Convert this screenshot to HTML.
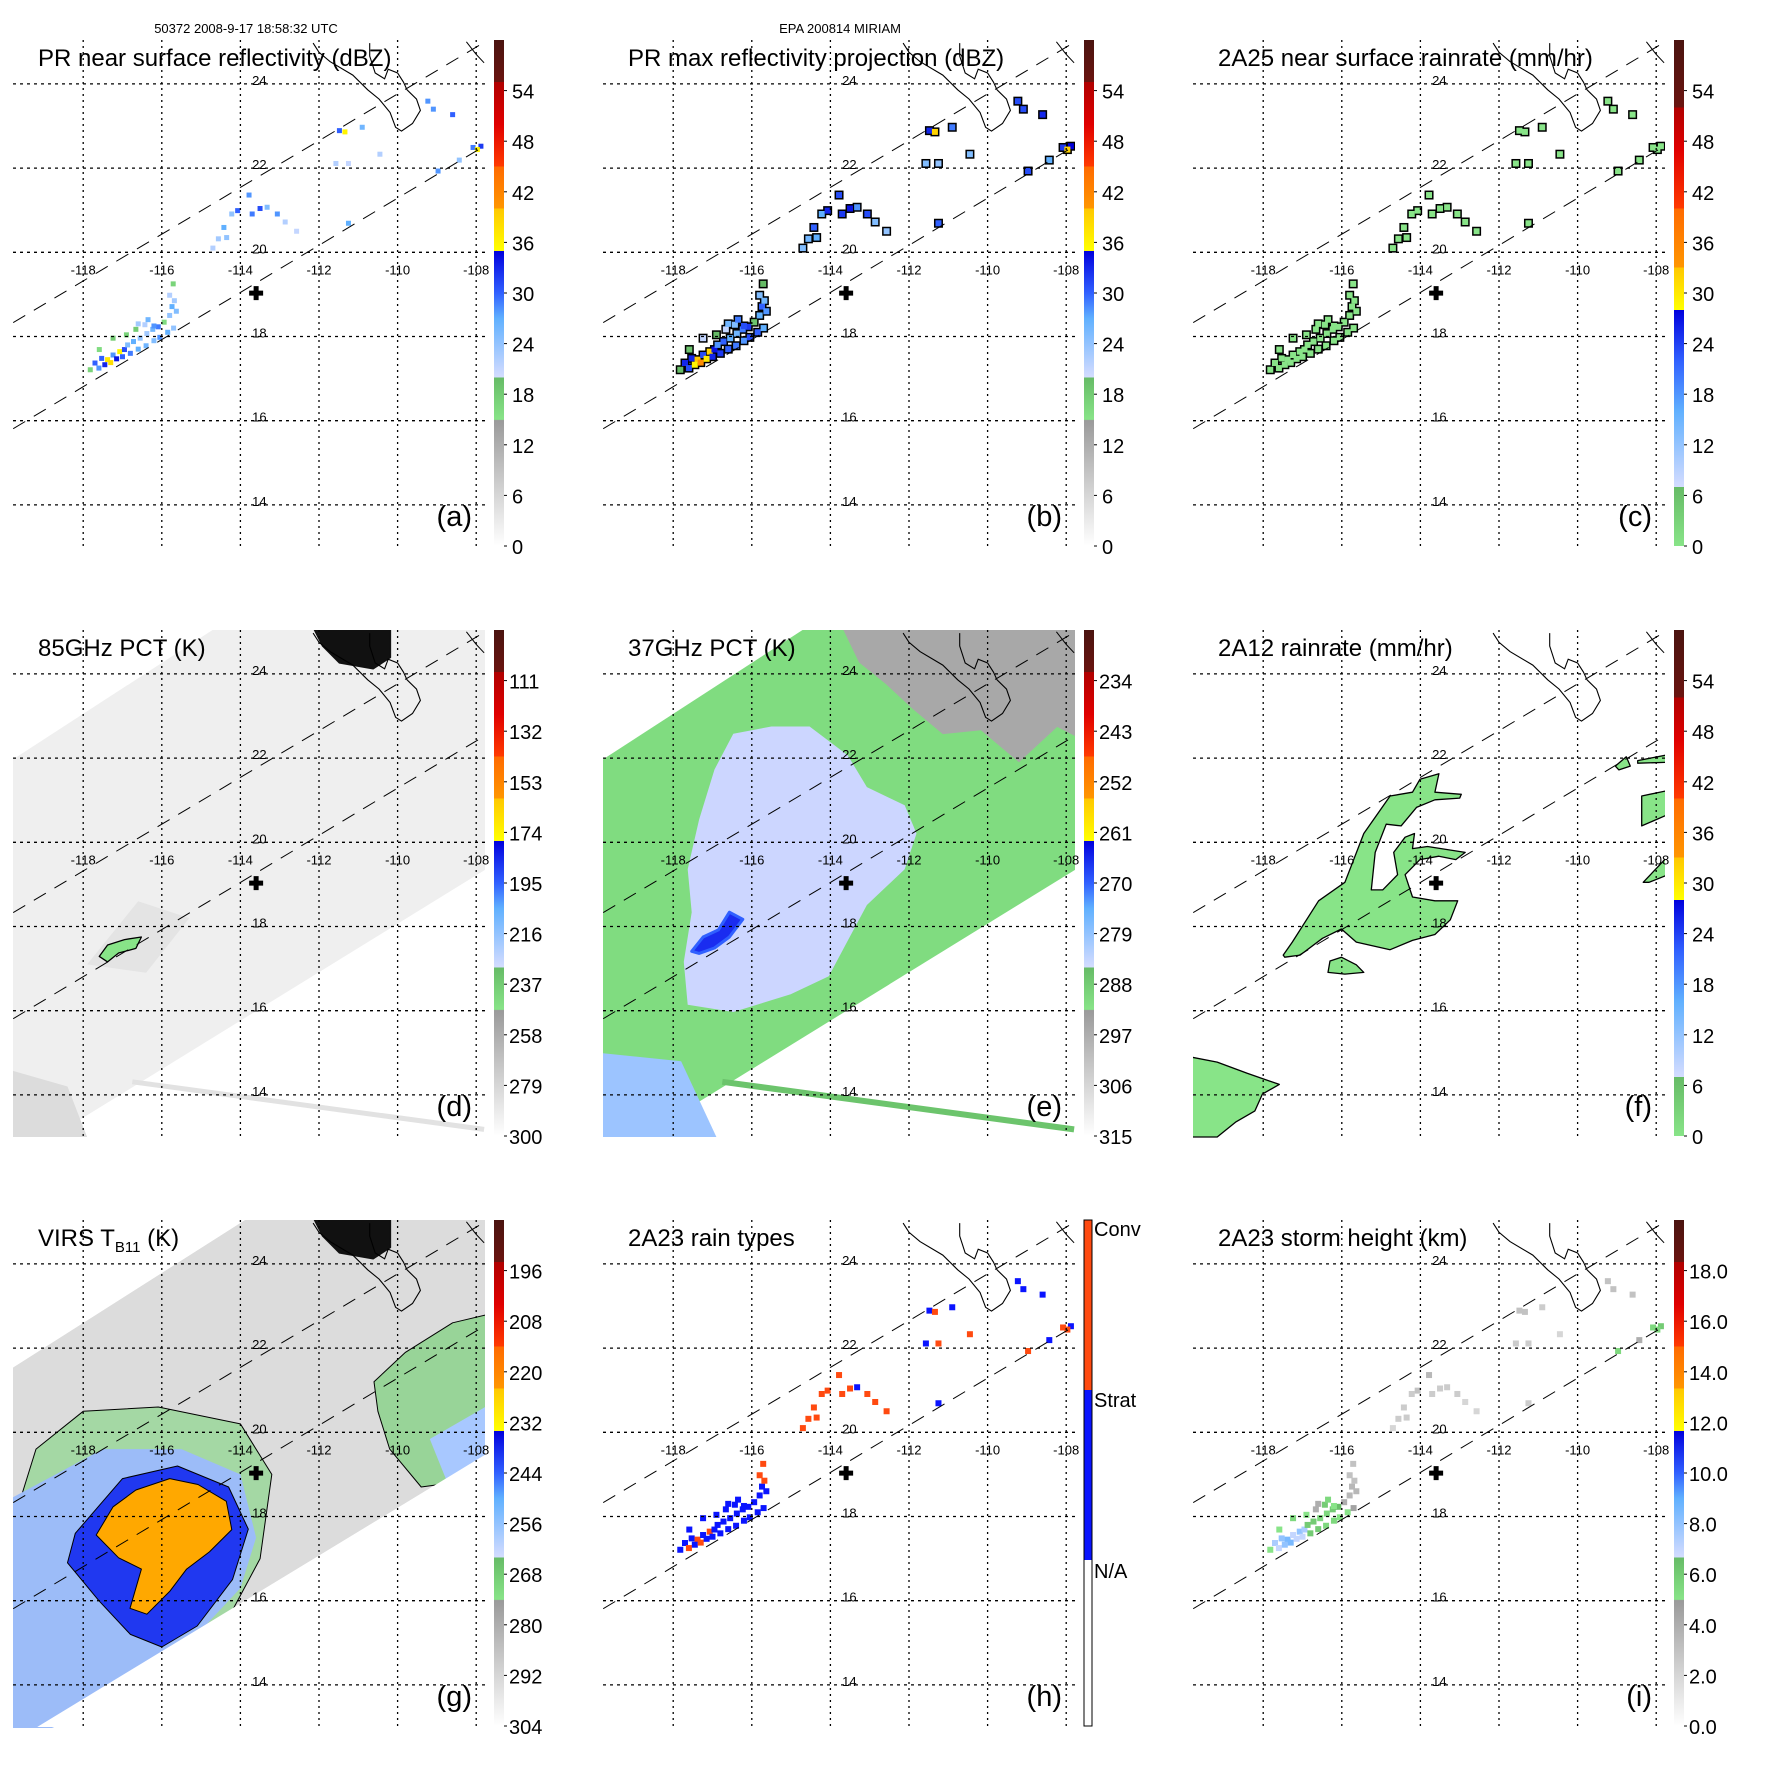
<!DOCTYPE html>
<html><head><meta charset="utf-8">
<style>
html,body{margin:0;padding:0;background:#fff;}
svg{display:block;font-family:"Liberation Sans",sans-serif;}
</style></head>
<body>
<svg id="fig" width="1771" height="1771" viewBox="0 0 1771 1771" xmlns="http://www.w3.org/2000/svg">
<defs>
<clipPath id="plotClip"><rect x="13" y="40" width="472" height="508"/></clipPath>
</defs>
<text x="246" y="33" font-size="13" text-anchor="middle">50372 2008-9-17 18:58:32 UTC</text>
<text x="840" y="33" font-size="13" text-anchor="middle">EPA 200814 MIRIAM</text>
</svg>
<script>
// ---------------- data ----------------
const lonTicks=[-118,-116,-114,-112,-110,-108];
const latTicks=[14,16,18,20,22,24];
const cbDbz=['0','6','12','18','24','30','36','42','48','54'];
const cb85=['300','279','258','237','216','195','174','153','132','111'];
const cb37=['315','306','297','288','279','270','261','252','243','234'];
const cbVirs=['304','292','280','268','256','244','232','220','208','196'];
const cbHeight=['0.0','2.0','4.0','6.0','8.0','10.0','12.0','14.0','16.0','18.0'];
// PR rain cells
const cellLon=[-117.7,-117.53,-117.38,-117.24,-117.07,-116.95,-116.87,-116.72,-116.55,-116.38,-116.66,-116.23,-117.82,-117.59,-117.24,-116.9,-116.43,-116.09,-115.94,-117.6,-117.45,-117.3,-117.15,-117.0,-116.8,-116.6,-116.4,-116.2,-116.05,-115.85,-115.7,-116.6,-116.35,-116.2,
 -115.8,-115.74,-115.8,-115.71,-115.63,-115.68,
 -114.56,-114.42,-114.22,-114.07,-113.78,-113.7,-113.5,-113.32,-113.06,-112.86,-112.57,-114.7,-114.35,
 -111.48,-111.34,-110.9,-111.57,-111.25,-110.45,-109.23,-109.09,-108.6,-108.08,-107.88,-107.97,-108.97,-108.43,-111.25];
const cellLat=[17.37,17.48,17.45,17.56,17.64,17.69,17.8,17.88,17.96,18.07,18.17,18.17,17.21,17.69,17.96,18.04,18.28,18.23,18.34,17.25,17.33,17.38,17.47,17.52,17.6,17.7,17.78,17.9,17.98,18.1,18.2,18.3,18.4,18.25,
 18.5,18.71,18.98,19.25,18.6,18.85,
 20.32,20.59,20.91,20.99,21.36,20.91,21.04,21.07,20.91,20.72,20.5,20.1,20.35,
 22.89,22.86,22.97,22.11,22.11,22.33,23.59,23.4,23.27,22.49,22.52,22.44,21.93,22.19,20.69];
const cellDbz=[30,30,37,28,36,31,25,27,24,23,18,26,17,16,18,17,22,29,16,28,33,38,34,30,29,27,26,25,28,27,24,23,26,28,
 24,27,22,17,25,23,
 23,27,24,30,28,29,31,25,28,22,21,22,24,
 30,36,26,22,21,22,28,28,30,29,32,36,28,24,27];
const cellType=[1,1,2,1,2,1,1,1,1,1,1,1,1,1,1,1,1,1,1,2,1,2,1,1,1,1,1,1,1,1,1,1,1,1,
 1,1,2,2,1,2,
 2,2,2,2,2,2,2,1,2,2,2,2,2,
 1,2,1,1,2,2,1,1,1,2,1,2,2,1,1];
const cellHeight=[7.5,8,8.5,7,8,7.5,6,6,5.5,5.5,4,6,5,5,5.5,5,6,6.5,4,7,8,8.5,7,7,6,6,5.5,5.5,5,5,4.5,4,5.5,5,
 3.5,3.5,3,3,3.5,3,
 2.5,2.5,2.5,3,3.5,2.5,2.5,2.5,2.5,2,2,2,2.5,
 3,3,2.5,2.5,2.5,2,3,3,3,5.5,6,5.5,5.5,4,2.5];
// coastline (Baja tip)
const coastLon=[-112.15,-112.0,-111.72,-111.14,-110.76,-110.47,-110.19,-110.05,-109.9,-109.62,-109.42,-109.52,-109.76,-109.85,-110.0,-110.24,-110.33,-110.57,-110.71,-110.71];
const coastLat=[24.97,24.75,24.53,24.21,23.86,23.64,23.32,22.97,22.88,23.06,23.37,23.64,23.86,24.04,24.26,24.35,24.12,24.26,24.66,24.97];
// swath edges (PR)
const swathUpLon=[-119.78,-107.79], swathUpLat=[18.33,24.99];
const swathLoLon=[-119.78,-107.78], swathLoLat=[15.81,22.53];
const centerLon=-113.6, centerLat=19.03;
// microwave swath (d,e)
const mwLon=[-119.9,-114.45,-107.7,-107.7,-118.8,-119.9];
const mwLat=[21.9,25.2,25.2,19.39,13.0,13.0];
const stripeLon=[-116.75,-107.8], stripeLat=[14.31,13.18];
// 85GHz features
const d85BlobLon=[-117.59,-117.38,-116.95,-116.52,-116.66,-117.1,-117.38];
const d85BlobLat=[17.29,17.56,17.69,17.75,17.48,17.37,17.16];
const landLon=[-112.2,-110.18,-110.18,-110.62,-111.48,-111.91];
const landLat=[25.2,25.2,24.39,24.12,24.26,24.66];
// 37GHz features
const e37LowLon=[-117.73,-117.53,-117.63,-117.34,-116.95,-116.47,-115.5,-114.53,-113.56,-113.07,-112.11,-111.81,-112.11,-113.07,-113.56,-114.04,-115.01,-116.47,-117.63];
const e37LowLat=[17.16,18.34,19.36,20.54,21.73,22.58,22.75,22.75,22.07,21.31,20.88,20.21,19.36,18.51,17.66,16.82,16.39,15.97,16.14];
const e37CoreLon=[-117.53,-117.24,-116.85,-116.57,-116.23,-116.57,-116.95,-117.34];
const e37CoreLat=[17.41,17.75,17.92,18.34,18.17,17.75,17.49,17.36];
const e37LandLon=[-113.75,-107.7,-107.7,-108.23,-109.2,-110.17,-111.14,-111.91,-112.59,-113.27];
const e37LandLat=[25.2,25.2,22.49,22.74,21.9,22.66,22.57,23.17,23.76,24.27];
const e37SwLon=[-119.9,-117.8,-116.9,-119.9], e37SwLat=[15.0,14.8,13.0,13.0];
// 2A12 rain areas
const fMainLon=[-117.49,-117.26,-116.59,-115.92,-115.44,-114.77,-114.2,-114.01,-113.53,-113.63,-112.96,-113.0,-113.63,-114.1,-114.49,-114.87,-115.15,-115.25,-114.96,-114.58,-114.68,-114.39,-114.15,-114.2,-113.82,-112.86,-113.1,-113.53,-114.01,-114.39,-114.2,-113.63,-113.05,-113.24,-113.63,-114.2,-114.77,-115.63,-116.01,-116.49,-117.06,-117.45];
const fMainLat=[17.32,17.63,18.61,19.05,20.21,21.1,21.19,21.5,21.63,21.19,21.14,21.05,21.01,20.83,20.39,20.43,19.76,18.87,18.87,19.23,19.76,20.12,20.21,19.85,19.9,19.76,19.59,19.67,19.59,19.23,18.7,18.61,18.61,18.16,17.81,17.67,17.45,17.63,17.94,17.72,17.32,17.27];
const fSmallLon=[-116.3,-116.01,-115.63,-115.44,-115.92,-116.35];
const fSmallLat=[17.18,17.27,17.09,16.91,16.87,16.91];
const fSwLon=[-119.9,-119.17,-118.4,-117.59,-118.02,-118.21,-118.69,-119.17,-119.9];
const fSwLat=[14.91,14.78,14.51,14.25,14.02,13.62,13.36,13.0,13.0];
const fR1Lon=[-108.37,-107.7,-107.7,-108.37], fR1Lat=[21.1,21.23,20.66,20.39];
const fR2Lon=[-108.33,-107.7,-107.7,-108.18], fR2Lat=[19.05,19.67,19.23,19.05];
const fR3Lon=[-109.04,-108.76,-108.66,-108.95], fR3Lat=[21.81,22.03,21.81,21.72];
const fR4Lon=[-108.47,-107.7,-107.7,-108.47], fR4Lat=[21.94,22.08,21.9,21.88];
// VIRS
const vSwLon=[-119.9,-113.62,-107.7,-107.7,-119.17,-119.9];
const vSwLat=[21.47,25.2,25.2,19.51,13.0,13.0];
const vGreenLon=[-119.2,-118.0,-116.09,-114.0,-113.2,-113.5,-114.3,-115.8,-117.24,-119.9,-119.9];
const vGreenLat=[19.6,20.5,20.6,20.2,19.0,17.0,15.6,14.3,13.4,12.9,17.5];
const vLightLon=[-119.9,-117.5,-115.5,-114.0,-113.6,-114.0,-115.2,-116.66,-118.97,-119.9];
const vLightLat=[18.4,19.6,19.6,19.0,17.5,16.3,15.1,13.9,12.9,12.9];
const vBlueLon=[-118.2,-117.0,-115.6,-114.3,-113.8,-114.2,-115.1,-116.0,-116.8,-117.6,-118.4];
const vBlueLat=[17.6,18.9,19.2,18.7,17.7,16.5,15.4,14.9,15.2,16.0,16.9];
const vCoreLon=[-117.67,-117.24,-116.66,-115.8,-115.08,-114.36,-114.22,-114.79,-115.37,-115.8,-116.38,-116.81,-116.52,-117.1];
const vCoreLat=[17.56,18.23,18.63,18.9,18.76,18.36,17.69,17.16,16.75,16.22,15.68,15.82,16.75,17.02];
const vRightLon=[-110.6,-109.8,-108.6,-107.7,-107.7,-108.6,-109.4,-110.2,-110.5];
const vRightLat=[21.2,21.9,22.6,22.8,19.3,18.8,18.7,19.6,20.5];
const vRightBlueLon=[-109.18,-107.7,-107.7,-108.6], vRightBlueLat=[19.84,20.64,18.87,18.5];

// ---------------- projection ----------------
function X(lon){return 83.2+(lon+118)*39.3;}
function Y(lat){return 252.3-(lat-20)*42.1;}
const NS='http://www.w3.org/2000/svg';
const fig=document.getElementById('fig');
function mk(tag,attrs,parent){const e=document.createElementNS(NS,tag);for(const k in attrs)e.setAttribute(k,attrs[k]);parent.appendChild(e);return e;}
function pts(lons,lats){return lons.map((l,i)=>X(l).toFixed(1)+','+Y(lats[i]).toFixed(1)).join(' ');}

const dbzStops=[[0,'#ffffff'],[14.9,'#9a9a9a'],[15,'#88e488'],[20,'#66bb66'],[20.01,'#d4dcff'],[27,'#60b0ff'],[30,'#3060ff'],[35,'#0000dd'],[35.01,'#ffff00'],[40,'#ffc800'],[40.01,'#ff9600'],[45,'#ff6a00'],[45.01,'#ff3a00'],[50,'#e00000'],[55,'#b00000'],[55.01,'#6a1410'],[60,'#4a1410']];
const rainStops=[[0,'#88e488'],[7,'#66bb66'],[7.01,'#d4dcff'],[16,'#60b0ff'],[22,'#3060ff'],[28,'#0000dd'],[28.01,'#ffff00'],[33,'#ffc800'],[33.01,'#ff9600'],[40,'#ff6a00'],[40.01,'#ff3a00'],[47,'#e00000'],[52,'#b00000'],[52.01,'#6a1410'],[60,'#4a1410']];
function hex(c){return [1,3,5].map(i=>parseInt(c.substr(i,2),16));}
function cmap(stops,v){
  v=Math.max(0,Math.min(60,v));
  for(let i=0;i<stops.length-1;i++){
    const a=stops[i],b=stops[i+1];
    if(v>=a[0]&&v<=b[0]){const t=(v-a[0])/((b[0]-a[0])||1);const ca=hex(a[1]),cb=hex(b[1]);
      return 'rgb('+ca.map((x,j)=>Math.round(x+(cb[j]-x)*t)).join(',')+')';}
  }
  return stops[stops.length-1][1];
}
function gradient(id,stops){
  const defs=fig.querySelector('defs');
  const g=mk('linearGradient',{id:id,x1:0,y1:1,x2:0,y2:0},defs);
  stops.forEach(s=>mk('stop',{offset:(s[0]/60).toFixed(4),'stop-color':s[1]},g));
}
gradient('gDbz',dbzStops);gradient('gRain',rainStops);

const panels=[
 {id:'a',col:0,row:0,title:'PR near surface reflectivity (dBZ)',cb:cbDbz,grad:'gDbz'},
 {id:'b',col:1,row:0,title:'PR max reflectivity projection (dBZ)',cb:cbDbz,grad:'gDbz'},
 {id:'c',col:2,row:0,title:'2A25 near surface rainrate (mm/hr)',cb:cbDbz,grad:'gRain'},
 {id:'d',col:0,row:1,title:'85GHz PCT (K)',cb:cb85,grad:'gDbz'},
 {id:'e',col:1,row:1,title:'37GHz PCT (K)',cb:cb37,grad:'gDbz'},
 {id:'f',col:2,row:1,title:'2A12 rainrate (mm/hr)',cb:cbDbz,grad:'gRain'},
 {id:'g',col:0,row:2,title:'VIRS',cb:cbVirs,grad:'gDbz'},
 {id:'h',col:1,row:2,title:'2A23 rain types',cb:null,grad:null},
 {id:'i',col:2,row:2,title:'2A23 storm height (km)',cb:cbHeight,grad:'gDbz'}
];

function area(g,lons,lats,fill,stroke,name,sw){
  const p=mk('polygon',{points:pts(lons,lats),fill:fill,stroke:stroke||'none','stroke-width':sw||1.3,'stroke-linejoin':'round'},g);
  
  
  return p;
}
function cells(g,p){
  const n=cellLon.length;
  const size=(p.id==='a')?5:6;
  if(p.id==='b'||p.id==='c'){
    for(let i=0;i<n;i++){
      const o=mk('rect',{x:X(cellLon[i])-size/2-1.5,y:Y(cellLat[i])-size/2-1.5,width:size+3,height:size+3,fill:'#000'},g);
      
      
    }
  }
  for(let i=0;i<n;i++){
    let col;
    if(p.id==='a')col=cmap(dbzStops,cellDbz[i]);
    else if(p.id==='b')col=cmap(dbzStops,cellDbz[i]+3);
    else if(p.id==='c')col='#88e488';
    else if(p.id==='h')col=cellType[i]===2?'#ff4a10':'#0a14ff';
    else col=cmap(dbzStops,cellHeight[i]*3);
    const r=mk('rect',{x:X(cellLon[i])-size/2,y:Y(cellLat[i])-size/2,width:size,height:size,fill:col},g);
    
    
  }
}

panels.forEach(p=>{
  const pg=mk('g',{transform:'translate('+(590*p.col)+','+(590*p.row)+')'},fig);
  
  
  const plot=mk('g',{'clip-path':'url(#plotClip)'},pg);
  
  

  if(p.id==='d'){
    area(plot,mwLon,mwLat,'#efefef',null,'swath-85ghz');
    const s=mk('polyline',{points:pts(stripeLon,stripeLat),stroke:'#e2e2e2','stroke-width':5,fill:'none'},plot);
    
    
    area(plot,[-117.9,-116.6,-115.3,-116.4],[17.1,18.6,18.2,16.9],'#e4e4e4',null,'low-pct-area');
    area(plot,[-119.9,-118.4,-117.9,-119.9],[14.6,14.2,13.0,13.0],'#dcdcdc',null,'low-pct-corner');
    area(plot,d85BlobLon,d85BlobLat,'#88e488','#000','pct-contour');
    area(plot,landLon,landLat,'#111','#111','land-cold');
  } else if(p.id==='e'){
    area(plot,mwLon,mwLat,'#80dc80',null,'swath-37ghz');
    area(plot,e37LandLon,e37LandLat,'#a8a8a8',null,'land-warm');
    area(plot,e37LowLon,e37LowLat,'#ccd6ff',null,'depressed-pct');
    area(plot,e37CoreLon,e37CoreLat,'#1a2cf0','#3060ff','pct-core',3);
    area(plot,e37SwLon,e37SwLat,'#9cc4ff',null,'pct-southwest');
    const s=mk('polyline',{points:pts(stripeLon,stripeLat),stroke:'#6cc46c','stroke-width':6,fill:'none'},plot);
    
    
  } else if(p.id==='f'){
    [[fMainLon,fMainLat],[fSmallLon,fSmallLat],[fSwLon,fSwLat],[fR1Lon,fR1Lat],[fR2Lon,fR2Lat],[fR3Lon,fR3Lat],[fR4Lon,fR4Lat]].forEach(a=>area(plot,a[0],a[1],'#88e488','#000','rain-area'));
  } else if(p.id==='g'){
    area(plot,vSwLon,vSwLat,'#dcdcdc',null,'virs-swath');
    const gr=area(plot,vGreenLon,vGreenLat,'#a4d8a4','#000','cloud-green',1);
    const lb=area(plot,vLightLon,vLightLat,'#9cbcf8',null,'cloud-lightblue');
    area(plot,vBlueLon,vBlueLat,'#2038f0','#000','cloud-blue',1);
    area(plot,vCoreLon,vCoreLat,'#ffa800','#000','cloud-core',1);
    area(plot,vRightLon,vRightLat,'#8cd28c','#000','cloud-east',1).setAttribute('fill-opacity','0.85');
    area(plot,vRightBlueLon,vRightBlueLat,'#a8c8ff',null,'cloud-east-blue');
    area(plot,landLon,landLat,'#111','#111','land-hot');
    area(plot,[-119.9,-113.62,-119.9],[21.47,25.2,25.2],'#fff',null,'outside-swath-nw');
    area(plot,[-107.7,-119.17,-107.7],[19.51,13.0,13.0],'#fff',null,'outside-swath-se');
  }
  if(['a','b','c','h','i'].includes(p.id))cells(plot,p);

  lonTicks.forEach(t=>{const l=mk('line',{x1:X(t),x2:X(t),y1:40,y2:548,stroke:'#000','stroke-width':1.3,'stroke-dasharray':'2,4'},plot);
    
    });
  latTicks.forEach(t=>{const l=mk('line',{x1:13,x2:485,y1:Y(t),y2:Y(t),stroke:'#000','stroke-width':1.3,'stroke-dasharray':'3,4'},plot);
    
    });
  [[swathUpLon,swathUpLat],[swathLoLon,swathLoLat]].forEach(s=>{
    const l=mk('polyline',{points:pts(s[0],s[1]),stroke:'#000','stroke-width':1,fill:'none','stroke-dasharray':'14,10'},plot);
    
    });
  const c=mk('polyline',{points:pts(coastLon,coastLat),stroke:'#000','stroke-width':1.1,fill:'none'},plot);
  
  
  const c2=mk('polyline',{points:pts([-108.25,-108.0,-107.8],[25.0,24.7,24.5]),stroke:'#000','stroke-width':1,fill:'none'},plot);
  
  
  const cx=X(centerLon),cy=Y(centerLat);
  const cr=mk('path',{d:'M'+(cx-7)+' '+(cy-2.5)+'h14v5h-14zM'+(cx-2.5)+' '+(cy-7)+'h5v14h-5z',fill:'#000'},plot);
  
  
  lonTicks.forEach(t=>{const tx=mk('text',{x:X(t),y:Y(20)+22,'font-size':13,'text-anchor':'middle'},pg);tx.textContent=String(t);
    
    });
  latTicks.forEach(t=>{const tx=mk('text',{x:X(-114)+19,y:Y(t)+1,'font-size':13,'text-anchor':'middle'},pg);tx.textContent=String(t);
    
    });
  const ti=mk('text',{x:38,y:66,'font-size':24},pg);
  if(p.id==='g'){ti.innerHTML='VIRS T<tspan font-size="15" dy="6">B11</tspan><tspan dy="-6"> (K)</tspan>';}
  else ti.textContent=p.title;
  
  
  const lt=mk('text',{x:472,y:526,'font-size':29,'text-anchor':'end'},pg);lt.textContent='('+p.id+')';
  
  
  if(p.grad){
    const cb=mk('rect',{x:494,y:40,width:10,height:506,fill:'url(#'+p.grad+')'},pg);
    
    
    p.cb.forEach((lab,k)=>{
      const yy=546-k*50.6;
      const tk=mk('line',{x1:504,x2:507,y1:yy,y2:yy,stroke:'#000','stroke-width':1},pg);
      
      
      const tx=mk('text',{x:(lab.length>2?509:512),y:yy+8,'font-size':20},pg);tx.textContent=lab;
      
      
    });
  } else {
    const parts=[[40,170,'#ff4a10'],[210,170,'#0a14ff'],[380,166,'#ffffff']];
    parts.forEach(q=>{const r=mk('rect',{x:494,y:q[0],width:8,height:q[1],fill:q[2]},pg);
      
      });
    const o=mk('rect',{x:494,y:40,width:8,height:506,fill:'none',stroke:'#000','stroke-width':1},pg);
    
    
    [['Conv',48],['Strat',219],['N/A',390]].forEach(q=>{const tx=mk('text',{x:504,y:q[1]+8,'font-size':20},pg);tx.textContent=q[0];
      
      });
  }
});
</script>
</body></html>
